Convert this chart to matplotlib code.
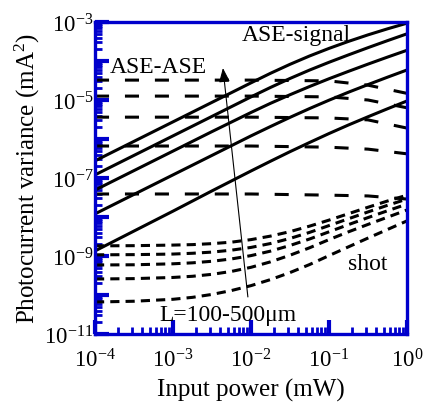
import numpy as np
import matplotlib
matplotlib.use("Agg")
import matplotlib.pyplot as plt
from matplotlib.ticker import LogLocator, FuncFormatter, NullFormatter

plt.rcParams['font.family'] = ['Liberation Serif', 'DejaVu Serif']
plt.rcParams['mathtext.fontset'] = 'custom'
plt.rcParams['mathtext.rm'] = 'Liberation Serif'

# ---- data (log10 values) ----
x_sig_exp = [-4, -3, -2.5, -2, -1.75, -1.5, -1.25, -1, -0.75, -0.5, -0.25, 0]
ase_signal = [
    [-6.56, -5.56, -5.06, -4.56, -4.315, -4.085, -3.872, -3.677, -3.497, -3.33, -3.175, -3.03],
    [-6.92, -5.92, -5.42, -4.92, -4.678, -4.448, -4.233, -4.033, -3.843, -3.658, -3.478, -3.303],
    [-7.31, -6.31, -5.81, -5.32, -5.085, -4.865, -4.655, -4.455, -4.265, -4.08, -3.90, -3.725],
    [-7.92, -6.92, -6.42, -5.92, -5.68, -5.445, -5.22, -5.005, -4.80, -4.605, -4.415, -4.23],
    [-8.87, -7.85, -7.33, -6.82, -6.57, -6.325, -6.09, -5.86, -5.64, -5.43, -5.225, -5.025],
]
x_ase_exp = [-4, -3, -2, -1, -0.5, 0]
ase_ase = [
    [-4.49, -4.49, -4.49, -4.51, -4.62, -4.83],
    [-4.90, -4.90, -4.90, -4.92, -5.00, -5.20],
    [-5.44, -5.44, -5.44, -5.46, -5.51, -5.72],
    [-6.18, -6.18, -6.18, -6.21, -6.26, -6.38],
    [-7.41, -7.41, -7.41, -7.44, -7.46, -7.54],
]
x_shot_exp = [-4, -3.5, -3, -2.75, -2.5, -2.25, -2, -1.75, -1.5, -1.25, -1,
              -0.75, -0.5, -0.25, 0]
shot = [
    [-8.74, -8.735, -8.72, -8.708, -8.683, -8.645, -8.58, -8.49, -8.375, -8.235, -8.08,
     -7.915, -7.75, -7.59, -7.44],
    [-8.97, -8.965, -8.95, -8.93, -8.90, -8.85, -8.78, -8.68, -8.55, -8.395, -8.22,
     -8.045, -7.87, -7.70, -7.54],
    [-9.23, -9.225, -9.20, -9.175, -9.135, -9.075, -8.99, -8.875, -8.73, -8.565, -8.38,
     -8.195, -8.015, -7.84, -7.67],
    [-9.59, -9.58, -9.55, -9.52, -9.47, -9.395, -9.29, -9.15, -8.98, -8.79, -8.58,
     -8.38, -8.19, -8.005, -7.82],
    [-10.18, -10.16, -10.11, -10.06, -9.985, -9.885, -9.76, -9.605, -9.425, -9.22, -8.99,
     -8.765, -8.54, -8.32, -8.10],
]
arrow_start = (-2.04, -10.05)
arrow_end = (-2.36, -4.18)

# ---- figure ----
fig = plt.figure(figsize=(4.23, 4.06), dpi=100)
ax = fig.add_axes([95/423, 1-335/406, 312/423, 312/406])
blue = '#0000CC'
lw = 2.2

for s in ase_signal:
    ax.plot(10**np.array(x_sig_exp), 10**np.array(s), color='k', lw=lw,
            solid_capstyle='butt', solid_joinstyle='round')
for s in ase_ase:
    ax.plot(10**np.array(x_ase_exp), 10**np.array(s), color='k', lw=lw,
            dashes=(4.6, 5.2), dash_capstyle='butt')
for s in shot:
    ax.plot(10**np.array(x_shot_exp), 10**np.array(s), color='k', lw=lw,
            dashes=(3.0, 2.0), dash_capstyle='butt')

ax.annotate('', xy=(10**arrow_end[0], 10**arrow_end[1]),
            xytext=(10**arrow_start[0], 10**arrow_start[1]),
            arrowprops=dict(arrowstyle='-|>,head_length=0.85,head_width=0.33',
                            color='k', lw=0.8, shrinkA=0, shrinkB=0))

ax.set_xscale('log')
ax.set_yscale('log')
ax.set_xlim(1e-4, 1)
ax.set_ylim(1e-11, 1e-3)

ax.xaxis.set_major_locator(LogLocator(base=10, numticks=10))
ax.xaxis.set_minor_locator(LogLocator(base=10, subs=np.arange(2, 10), numticks=20))
ax.yaxis.set_major_locator(LogLocator(base=10, numticks=20))
ax.yaxis.set_minor_locator(LogLocator(base=10, subs=np.arange(2, 10), numticks=40))
ax.xaxis.set_minor_formatter(NullFormatter())
ax.yaxis.set_minor_formatter(NullFormatter())

def xfmt(v, pos):
    e = int(round(np.log10(v)))
    return r'$\mathregular{10^{%d}}$' % e

def yfmt(v, pos):
    e = int(round(np.log10(v)))
    if e % 2 == 0:
        return ''
    return r'$\mathregular{10^{%d}}$' % e

ax.xaxis.set_major_formatter(FuncFormatter(xfmt))
ax.yaxis.set_major_formatter(FuncFormatter(yfmt))

for sp in ax.spines.values():
    sp.set_color(blue)
    sp.set_linewidth(2.4)

ax.tick_params(which='both', direction='in', color=blue, top=False, right=False,
               labelsize=16.5, labelcolor='k')
ax.tick_params(which='major', length=10, width=3)
ax.tick_params(which='minor', length=5, width=2)
ax.tick_params(axis='x', which='major', pad=10)
ax.tick_params(axis='y', which='major', pad=1)

ax.set_xlabel('Input power (mW)', fontsize=18, labelpad=5)
ax.set_ylabel(r'Photocurrent variance (mA$\mathregular{^2}$)', fontsize=18, labelpad=2)

ax.text(10**-3.19, 10**-4.15, 'ASE-ASE', fontsize=17, ha='center', va='center')
ax.text(10**-1.42, 10**-3.33, 'ASE-signal', fontsize=17, ha='center', va='center')
ax.text(10**-0.51, 10**-9.2, 'shot', fontsize=17, ha='center', va='center')
ax.text(10**-2.29, 10**-10.5, 'L=100-500μm', fontsize=17, ha='center', va='center')

fig.savefig('out.png', dpi=100)
